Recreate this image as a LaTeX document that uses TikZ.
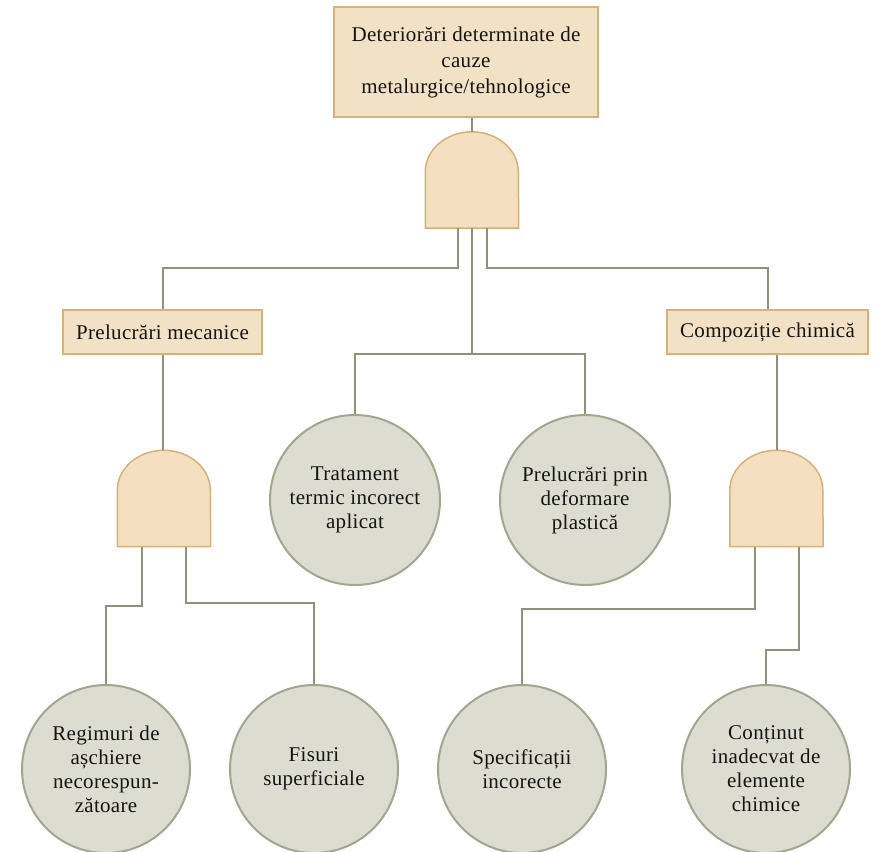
\documentclass[tikz,border=0pt]{standalone}
\usepackage{fontspec}
\setmainfont{Liberation Serif}[LetterSpace=1.5]

\definecolor{boxfill}{HTML}{F3E1C6}
\definecolor{boxline}{HTML}{D5B27B}
\definecolor{gatefill}{HTML}{F4DFC0}
\definecolor{circfill}{HTML}{DCDDD0}
\definecolor{circline}{HTML}{A3A68E}
\definecolor{wirecol}{HTML}{8F927B}
\definecolor{ink}{HTML}{141414}

\tikzset{
  label font/.style={font=\fontsize{21}{24}\selectfont, text=ink},
  evbox/.style={rectangle, draw=boxline, line width=1.5pt, fill=boxfill,
      inner sep=0pt, align=center, label font},
  basic/.style={circle, draw=circline, line width=2pt, fill=circfill,
      minimum size=170pt, inner sep=0pt, align=center, label font},
  gatebox/.style={rectangle, minimum width=93pt, minimum height=96pt, inner sep=0pt},
  gateline/.style={draw=boxline, line width=1.5pt, fill=gatefill},
  wire/.style={draw=wirecol, line width=2pt},
}

% AND gate outline drawn inside a named placeholder node
\newcommand\andgateshape[1]{%
  \path[gateline] (#1.south west) -- ([yshift=-40pt]#1.north west)
    arc[start angle=180, end angle=0, x radius=46.5pt, y radius=40pt]
    -- (#1.south east) -- cycle;}

\begin{document}
\begin{tikzpicture}[x=1pt, y=-1pt]
  \useasboundingbox[fill=white] (0,0) rectangle (875,851);

  % events
  \node[evbox, minimum width=264pt, minimum height=110pt,
        font=\fontsize{21}{26}\selectfont] (top) at (466,62)
    {Deteriorări determinate de\\cauze\\metalurgice/tehnologice};
  \node[evbox, minimum width=199pt, minimum height=44pt] (pm) at (162.5,332)
    {Prelucrări mecanice};
  \node[evbox, minimum width=201pt, minimum height=44pt] (cc) at (767.5,332)
    {Compoziție chimică};

  % gates
  \node[gatebox] (g0) at (472,180) {};
  \node[gatebox] (g1) at (164,498.5) {};
  \node[gatebox] (g2) at (776.5,498.5) {};
  \andgateshape{g0}
  \andgateshape{g1}
  \andgateshape{g2}

  % basic events
  \node[basic] (ct) at (355,500) {Tratament\\termic incorect\\aplicat};
  \node[basic] (cp) at (585,500) {Prelucrări prin\\deformare\\plastică};
  \node[basic, minimum size=168pt] (c1) at (106,769) {Regimuri de\\așchiere\\necorespun-\\zătoare};
  \node[basic, minimum size=168pt] (c2) at (314,769) {Fisuri\\superficiale};
  \node[basic, minimum size=168pt] (c3) at (522,769) {Specificații\\incorecte};
  \node[basic, minimum size=168pt] (c4) at (766,769) {Conținut\\inadecvat de\\elemente\\chimice};

  % connectors
  \draw[wire] (top.south -| g0.north) -- (g0.north);
  \draw[wire] ([xshift=-14pt]g0.south) -- ++(0,40) -| (pm.north);
  \draw[wire] (g0.south) -- ++(0,126) coordinate (mid);
  \draw[wire] (mid) -| (ct.north);
  \draw[wire] (mid) -| (cp.north);
  \draw[wire] ([xshift=15pt]g0.south) -- ++(0,40) -| (cc.north);

  \draw[wire] (pm.south) -- (pm.south |- g1.north);
  \draw[wire] (g2.north |- cc.south) -- (g2.north);

  \draw[wire] ([xshift=-22pt]g1.south) -- ++(0,59) -| (c1.north);
  \draw[wire] ([xshift=22pt]g1.south) -- ++(0,56) -| (c2.north);
  \draw[wire] ([xshift=-22pt]g2.south) -- ++(0,62) -| (c3.north);
  \draw[wire] ([xshift=22pt]g2.south) -- ++(0,103) -| (c4.north);
\end{tikzpicture}
\end{document}
